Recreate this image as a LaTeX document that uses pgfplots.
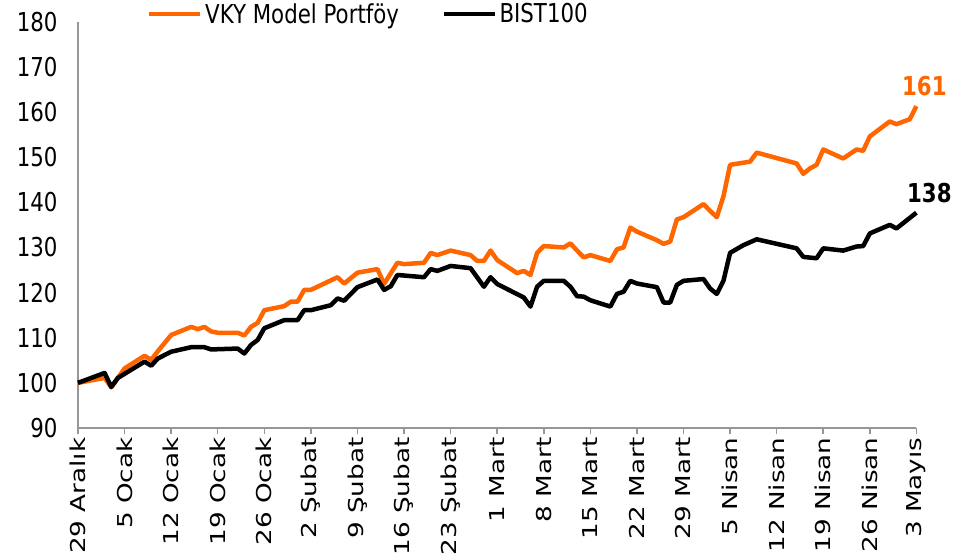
\documentclass[border=0pt]{standalone}
\usepackage{fontspec}
\setmainfont{DejaVu Sans}
\newfontfamily\yfont{DejaVu Sans}[FakeStretch=0.82]
\newfontfamily\xfont{DejaVu Sans}[FakeStretch=1.28]
\usepackage{pgfplots}
\usepackage{pgfplotstable}
\pgfplotsset{compat=1.18}
\definecolor{vkyorange}{RGB}{255,102,0}
\definecolor{axgray}{RGB}{150,150,150}

\pgfplotstableread{
d v
0 100
4 101.1
5 99.0
7 103.2
10 106.0
11 105.1
12 107.0
14 110.6
17 112.4
18 111.9
19 112.4
20 111.4
21 111.1
24 111.1
25 110.5
26 112.4
27 113.3
28 116.1
31 117.0
32 118.0
33 118.0
34 120.6
35 120.6
39 123.4
40 122.0
42 124.4
45 125.2
46 121.9
48 126.6
49 126.3
52 126.6
53 128.8
54 128.3
56 129.3
59 128.3
60 127.0
61 127.0
62 129.3
63 127.2
66 124.3
67 124.8
68 123.9
69 128.8
70 130.3
73 130.0
74 130.9
75 129.3
76 127.8
77 128.3
80 127.0
81 129.6
82 130.0
83 134.4
84 133.5
87 131.6
88 130.8
89 131.3
90 136.2
91 136.7
94 139.6
95 138.1
96 136.7
97 141.3
98 148.3
101 149.0
102 151.0
108 148.6
109 146.3
110 147.5
111 148.3
112 151.7
115 149.7
117 151.7
118 151.4
119 154.6
122 157.9
123 157.3
125 158.4
126 161.3
}\vky

\pgfplotstableread{
d v
0 100
4 102.2
5 99.1
6 101.1
10 104.7
11 103.8
12 105.4
14 106.9
17 107.9
19 107.9
20 107.4
24 107.6
25 106.5
26 108.4
27 109.5
28 112.1
31 113.9
33 113.9
34 116.1
35 116.1
38 117.2
39 118.7
40 118.2
42 121.2
45 122.9
46 120.6
47 121.4
48 123.9
52 123.4
53 125.2
54 124.8
56 125.9
59 125.4
61 121.3
62 123.4
63 121.9
67 118.9
68 116.9
69 121.3
70 122.6
73 122.6
74 121.3
75 119.2
76 119.1
77 118.3
80 116.9
81 119.7
82 120.2
83 122.6
84 122.0
87 121.2
88 117.8
89 117.8
90 121.7
91 122.6
94 123.0
95 120.9
96 119.7
97 122.6
98 128.8
100 130.5
102 131.8
108 129.8
109 127.9
111 127.6
112 129.8
115 129.3
117 130.2
118 130.3
119 133.1
122 135.0
123 134.2
126 137.7
}\bist

\begin{document}
\begin{tikzpicture}
\path[use as bounding box] (-78pt,-130pt) rectangle (900pt,428pt);
\begin{axis}[
  at={(0pt,0pt)}, anchor=south west,
  scale only axis, width=838.4pt, height=406.3pt,
  xmin=0, xmax=126, ymin=90, ymax=180,
  axis lines*=left,
  axis line style={draw=axgray, line width=1.5pt},
  xtick={0,7,...,126},
  xticklabels={29 Aralık,5 Ocak,12 Ocak,19 Ocak,26 Ocak,2 Şubat,9 Şubat,16 Şubat,23 Şubat,1 Mart,8 Mart,15 Mart,22 Mart,29 Mart,5 Nisan,12 Nisan,19 Nisan,26 Nisan,3 Mayıs},
  ytick={90,100,...,180},
  tick align=outside,
  major tick length=6pt,
  x tick style={draw=axgray, line width=1.5pt},
  y tick style={draw=none},
  xticklabel style={font=\xfont\fontsize{20.5}{24}\selectfont, rotate=90, anchor=east},
  yticklabel style={font=\yfont\fontsize{26}{30}\selectfont, xshift=-11pt},
  /pgf/number format/assume math mode=true,
  clip=false,
  legend columns=2,
  legend image code/.code={\draw[#1] (0pt,0pt) -- (51pt,0pt);},
  legend style={at={(rel axis cs:0.0823,1.019)}, anchor=west, draw=none, fill=none,
    inner sep=0pt, font=\yfont\fontsize{26}{30}\selectfont,
    nodes={inner sep=2.5pt},
    /tikz/every even column/.append style={column sep=40pt}},
]
\addplot[vkyorange, line width=4.5pt, line join=round] table[x=d,y=v] {\vky};
\addlegendentry{VKY Model Portföy}
\addplot[black, line width=4.5pt, line join=round] table[x=d,y=v] {\bist};
\addlegendentry{BIST100}
\node[anchor=base, inner sep=0pt, font=\yfont\bfseries\fontsize{26}{30}\selectfont, text=vkyorange, xshift=8pt, yshift=11pt] at (axis cs:126,161.3) {161};
\node[anchor=base, inner sep=0pt, font=\yfont\bfseries\fontsize{26}{30}\selectfont, text=black, xshift=13pt, yshift=10pt] at (axis cs:126,137.7) {138};
\end{axis}
\end{tikzpicture}
\end{document}
